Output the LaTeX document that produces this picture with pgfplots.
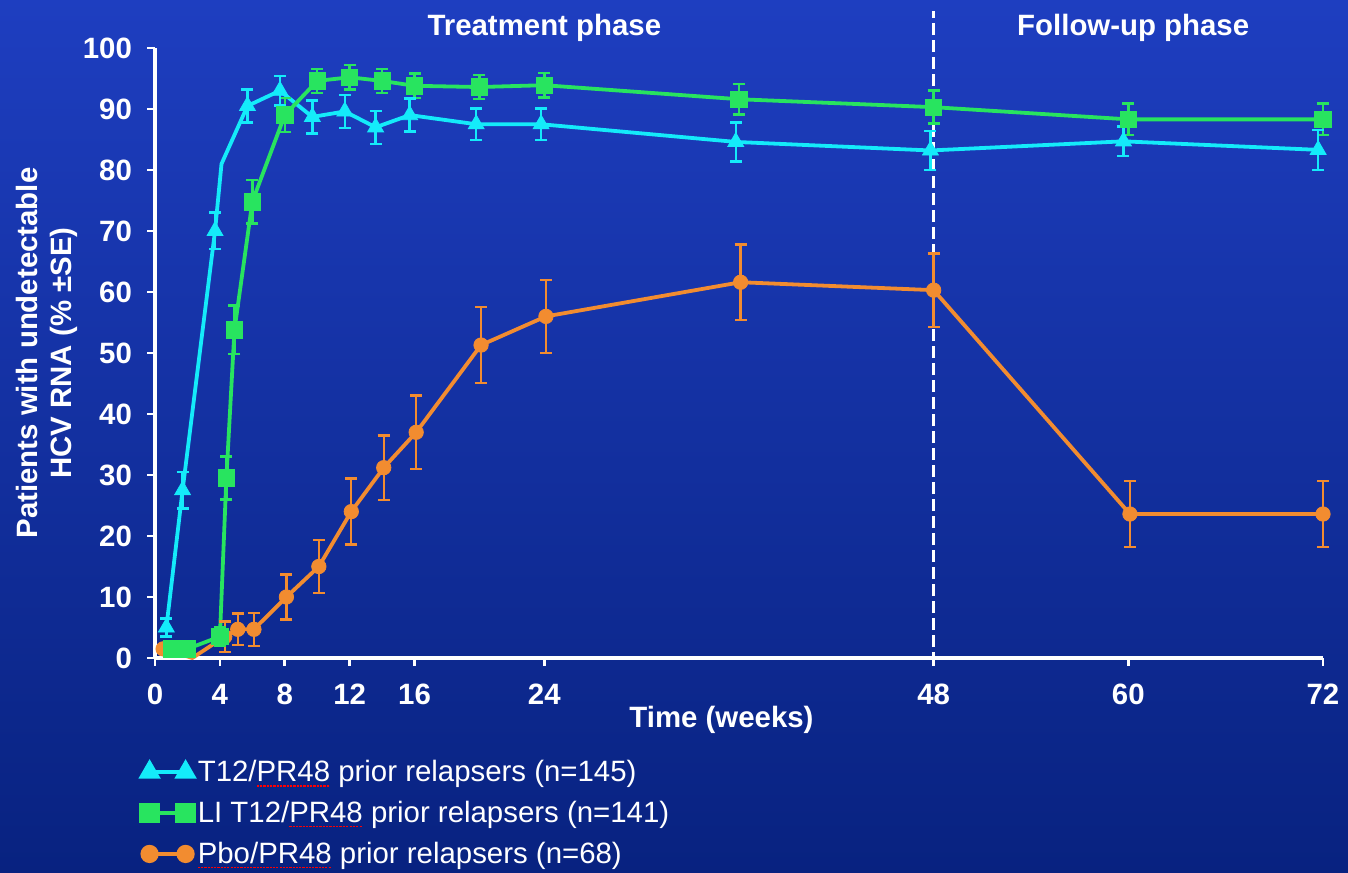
\documentclass[border=0pt]{standalone}
\usepackage{pgfplots}
\pgfplotsset{compat=1.18}
\usepackage{fontspec}
\setmainfont{Liberation Sans}
\newcommand\redwave[1]{\setbox0\hbox{#1}\rlap{\copy0}\raisebox{-2.6pt}{\color{red}\hbox to \wd0{\xleaders\hbox{\rule{1.1pt}{0.8pt}\hspace{0.5pt}}\hfill}}}
\definecolor{bgtop}{RGB}{30,62,192}
\definecolor{bgbot}{RGB}{8,34,128}
\definecolor{cy}{RGB}{20,235,250}
\definecolor{gr}{RGB}{40,228,95}
\definecolor{orr}{RGB}{242,140,48}
\newcommand\bigfont{\fontsize{14.7}{17}\selectfont}
\begin{document}
\begin{tikzpicture}
\shade[top color=bgtop, bottom color=bgbot] (0,0) rectangle (674pt,436pt);
\begin{axis}[
  at={(77.5pt,107pt)}, anchor=south west,
  scale only axis, width=584pt, height=305pt,
  xmin=0, xmax=72, ymin=0, ymax=100,
  clip=false,
  axis x line=bottom, axis y line=left,
  axis line style={white, line width=1.6pt, -},
  tick style={white, line width=1.3pt},
  major tick length=4pt, tick align=outside,
  xtick={0,4,8,12,16,24,48,60,72},
  ytick={0,10,...,100},
  /pgf/number format/assume math mode=true,
  ticklabel style={font=\bfseries\bigfont, text=white},
  yticklabel style={xshift=-4pt},
  xticklabel style={yshift=-5.5pt},
  xlabel={Time (weeks)},
  xlabel style={at={(axis description cs:0.485,0)}, anchor=north, yshift=-24pt, font=\bfseries\bigfont, text=white, inner sep=0pt},
  ylabel={Patients with undetectable\\HCV RNA (\% ±SE)},
  ylabel style={at={(axis description cs:-0.066,0.5)}, anchor=south, align=center, font=\bfseries\bigfont, text=white, inner sep=0pt},
  legend image code/.code={\draw[mark repeat=1,#1] plot coordinates {(0pt,0pt) (18pt,0pt)};},
  legend style={at={(axis description cs:-0.012,-0.16)}, anchor=north west, draw=none, fill=none, text=white, font=\bigfont, cells={anchor=west}, row sep=4.3pt, inner sep=0pt},
]
% dashed separator
\addplot[white, line width=1.3pt, dash pattern=on 6pt off 2.5pt, forget plot] coordinates {(48,-1) (48,106)};

% cyan line (includes unmarked bend)
\addplot[cy, line width=1.9pt, forget plot] coordinates {
(0.7,5) (1.7,27.5) (3.7,70) (4.1,81) (5.7,90.5) (7.7,93) (9.7,88.7) (11.7,89.6) (13.6,87) (15.7,89) (19.8,87.5) (23.8,87.5) (35.8,84.6) (47.8,83.2) (59.7,84.7) (71.7,83.3)};
% green line
\addplot[gr, line width=1.9pt, forget plot] coordinates {
(1,1.5) (2,1.5) (4,3.5) (4.4,29.5) (4.9,53.8) (6,74.8) (8,89) (10,94.6) (12,95.2) (14,94.6) (16,93.8) (20,93.6) (24,93.9) (36,91.6) (48,90.3) (60,88.3) (72,88.3)};
% orange line
\addplot[orr, line width=1.9pt, forget plot] coordinates {
(0.5,1.5) (2.3,0) (4.3,3.5) (5.1,4.7) (6.1,4.7) (8.1,10) (10.1,15) (12.1,24) (14.1,31.2) (16.1,37) (20.1,51.3) (24.1,56) (36.1,61.6) (48,60.3) (60.1,23.6) (72,23.6)};

% orange marks + error bars
\addplot[orr, only marks, mark=*, mark size=3.6pt, forget plot,
  error bars/.cd, y dir=both, y explicit,
  error bar style={line width=1.2pt, orr},
  error mark options={rotate=90, line width=1.2pt, mark size=3pt, orr}] coordinates {
(0.5,1.5) +- (0,0)
(4.3,3.5) +- (0,2.5)
(5.1,4.7) +- (0,2.6) (6.1,4.7) +- (0,2.7) (8.1,10) +- (0,3.7) (10.1,15) +- (0,4.3)
(12.1,24) +- (0,5.4) (14.1,31.2) +- (0,5.3) (16.1,37) +- (0,6) (20.1,51.3) +- (0,6.2)
(24.1,56) +- (0,6) (36.1,61.6) +- (0,6.2) (48,60.3) +- (0,6) (60.1,23.6) +- (0,5.4) (72,23.6) +- (0,5.4)};

% green marks + error bars
\addplot[gr, only marks, mark=square*, mark size=4.1pt, forget plot,
  error bars/.cd, y dir=both, y explicit,
  error bar style={line width=1.2pt, gr},
  error mark options={rotate=90, line width=1.2pt, mark size=3pt, gr}] coordinates {
(1,1.5) +- (0,0.5) (2,1.5) +- (0,0.5) (4,3.5) +- (0,1.5) (4.4,29.5) +- (0,3.5) (4.9,53.8) +- (0,4)
(6,74.8) +- (0,3.6) (8,89) +- (0,2.8) (10,94.6) +- (0,2) (12,95.2) +- (0,2) (14,94.6) +- (0,2)
(16,93.8) +- (0,2) (20,93.6) +- (0,2) (24,93.9) +- (0,2) (36,91.6) +- (0,2.5) (48,90.3) +- (0,2.7)
(60,88.3) +- (0,2.6) (72,88.3) +- (0,2.6)};

% cyan marks + error bars
\addplot[cy, only marks, mark=triangle*, mark size=4.6pt, forget plot,
  error bars/.cd, y dir=both, y explicit,
  error bar style={line width=1.2pt, cy},
  error mark options={rotate=90, line width=1.2pt, mark size=3pt, cy}] coordinates {
(0.7,5) +- (0,1.5) (1.7,27.5) +- (0,3) (3.7,70) +- (0,3) (5.7,90.5) +- (0,2.7) (7.7,93) +- (0,2.4)
(9.7,88.7) +- (0,2.7) (11.7,89.6) +- (0,2.7) (13.6,87) +- (0,2.7) (15.7,89) +- (0,2.7)
(19.8,87.5) +- (0,2.6) (23.8,87.5) +- (0,2.6) (35.8,84.6) +- (0,3.2) (47.8,83.2) +- (0,3.2)
(59.7,84.7) +- (0,2.4) (71.7,83.3) +- (0,3.3)};

\addlegendimage{cy, line width=1.9pt, mark=triangle*, mark size=4.6pt}
\addlegendentry{T12/\redwave{PR48} prior relapsers (n=145)}
\addlegendimage{gr, line width=1.9pt, mark=square*, mark size=4.1pt}
\addlegendentry{LI T12/\redwave{PR48} prior relapsers (n=141)}
\addlegendimage{orr, line width=1.9pt, mark=*, mark size=3.6pt}
\addlegendentry{\redwave{Pbo/PR48} prior relapsers (n=68)}

\node[text=white, font=\bfseries\bigfont] at (axis cs:24,103.3) {Treatment phase};
\node[text=white, font=\bfseries\bigfont] at (axis cs:60.3,103.3) {Follow-up phase};
\end{axis}
\pgfresetboundingbox
\useasboundingbox (0,0) rectangle (674pt,436pt);
\end{tikzpicture}
\end{document}
